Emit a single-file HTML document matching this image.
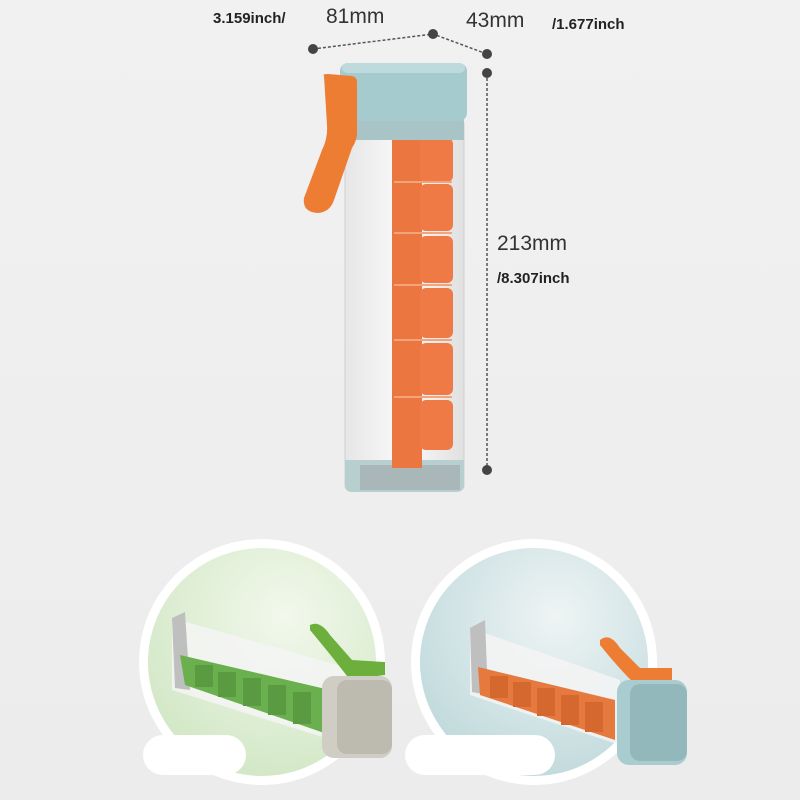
<!DOCTYPE html>
<html><head><meta charset="utf-8"><style>
body{margin:0;width:800px;height:800px;overflow:hidden;background:linear-gradient(#f1f1f1,#ececec);font-family:"Liberation Sans",sans-serif;position:relative}
.t{position:absolute;color:#222;white-space:nowrap}
.b{font-weight:bold;font-size:15px}
.m{font-size:21px;color:#333}
</style></head><body>
<svg width="800" height="800" style="position:absolute;left:0;top:0">
<defs>
<radialGradient id="g1" cx="0.6" cy="0.3" r="0.8"><stop offset="0" stop-color="#f2f8ec"/><stop offset="1" stop-color="#cfe6c2"/></radialGradient>
<radialGradient id="g2" cx="0.6" cy="0.3" r="0.8"><stop offset="0" stop-color="#eef4f4"/><stop offset="1" stop-color="#bcd7da"/></radialGradient>
<linearGradient id="body" x1="0" x2="1"><stop offset="0" stop-color="#e6e6e6"/><stop offset="0.5" stop-color="#fafafa"/><stop offset="1" stop-color="#e0e0e0"/></linearGradient>
</defs>
<g stroke="#555" stroke-width="1.5" stroke-dasharray="3,2" fill="none">
<path d="M313 49 L433 34 L487 54"/><path d="M487 73 L487 470"/></g>
<g fill="#444"><circle cx="313" cy="49" r="5"/><circle cx="433" cy="34" r="5"/><circle cx="487" cy="54" r="5"/><circle cx="487" cy="73" r="5"/><circle cx="487" cy="470" r="5"/></g>
<rect x="345" y="120" width="119" height="370" rx="4" fill="url(#body)" stroke="#d0d0d0"/>
<path d="M345 460 L464 460 L464 485 Q464 492 456 492 L352 492 Q345 492 345 485Z" fill="#b8cfd0"/>
<rect x="360" y="465" width="100" height="25" fill="#9ea6a8" opacity="0.6"/>
<g fill="#f07a45">
<rect x="392" y="138" width="30" height="330" fill="#ec7640"/>
<rect x="420" y="138" width="33" height="44" rx="6"/><rect x="420" y="184" width="33" height="47" rx="6"/><rect x="420" y="236" width="33" height="47" rx="6"/><rect x="420" y="288" width="33" height="50" rx="6"/><rect x="420" y="343" width="33" height="52" rx="6"/><rect x="420" y="400" width="33" height="50" rx="6"/>
</g>
<g stroke="#f4a47a" stroke-width="2"><line x1="394" y1="182" x2="452" y2="182"/><line x1="394" y1="233" x2="452" y2="233"/><line x1="394" y1="285" x2="452" y2="285"/><line x1="394" y1="340" x2="452" y2="340"/><line x1="394" y1="397" x2="452" y2="397"/></g>
<rect x="345" y="118" width="119" height="22" fill="#a9c4c6"/>
<rect x="340" y="63" width="127" height="58" rx="8" fill="#a6cbce"/>
<rect x="342" y="63" width="123" height="10" rx="6" fill="#bfdadc"/>
<path d="M324 76 Q322 74 328 74 L352 76 Q357 77 357 82 L357 135 Q356 142 352 148 L334 200 Q330 212 318 213 Q302 212 304 198 L322 150 Q328 138 327 125 Z" fill="#ee7d34"/>
<circle cx="262" cy="662" r="123" fill="#fff"/><circle cx="262" cy="662" r="114" fill="url(#g1)"/>
<circle cx="534" cy="662" r="123" fill="#fff"/><circle cx="534" cy="662" r="114" fill="url(#g2)"/>
<path d="M172 618 L348 668 L348 745 L172 690Z" fill="#f4f4f4" opacity="0.85"/>
<path d="M172 618 L185 612 L190 690 L175 688Z" fill="#bfbfbf"/>
<path d="M180 655 L330 690 L330 735 L185 685Z" fill="#6bb04e"/>
<g fill="#5a9a40"><rect x="195" y="665" width="18" height="22"/><rect x="218" y="672" width="18" height="25"/><rect x="243" y="678" width="18" height="28"/><rect x="268" y="685" width="18" height="30"/><rect x="293" y="692" width="18" height="32"/></g>
<path d="M310 625 Q320 620 330 635 L352 660 L385 662 L385 675 L350 680 Q335 660 310 630Z" fill="#6caf3c"/>
<rect x="322" y="676" width="70" height="82" rx="12" fill="#cfcdc4"/><rect x="337" y="680" width="55" height="74" rx="10" fill="#bdbab0"/>
<path d="M470 628 L620 680 L620 745 L470 695Z" fill="#f4f4f4" opacity="0.85"/>
<path d="M470 628 L485 620 L488 695 L472 692Z" fill="#bfbfbf"/>
<path d="M478 667 L615 700 L615 740 L480 695Z" fill="#e5793e"/>
<g fill="#d5682e"><rect x="490" y="676" width="18" height="22"/><rect x="513" y="682" width="18" height="25"/><rect x="537" y="688" width="18" height="28"/><rect x="561" y="695" width="18" height="30"/><rect x="585" y="702" width="18" height="30"/></g>
<path d="M600 640 Q610 632 620 648 L640 668 L672 668 L672 683 L637 686 Q620 670 600 645Z" fill="#ee7d34"/>
<rect x="617" y="680" width="70" height="85" rx="12" fill="#a8ccd0"/><rect x="630" y="684" width="57" height="77" rx="10" fill="#93b8bc"/>
<rect x="143" y="735" width="103" height="40" rx="20" fill="#fff"/>
<rect x="405" y="735" width="150" height="40" rx="20" fill="#fff"/>
</svg>
<div class="t b" style="left:213px;top:10px">3.159inch/</div>
<div class="t m" style="left:326px;top:5px">81mm</div>
<div class="t m" style="left:466px;top:9px">43mm</div>
<div class="t b" style="left:552px;top:16px">/1.677inch</div>
<div class="t m" style="left:497px;top:232px">213mm</div>
<div class="t b" style="left:497px;top:270px">/8.307inch</div>
</body></html>
